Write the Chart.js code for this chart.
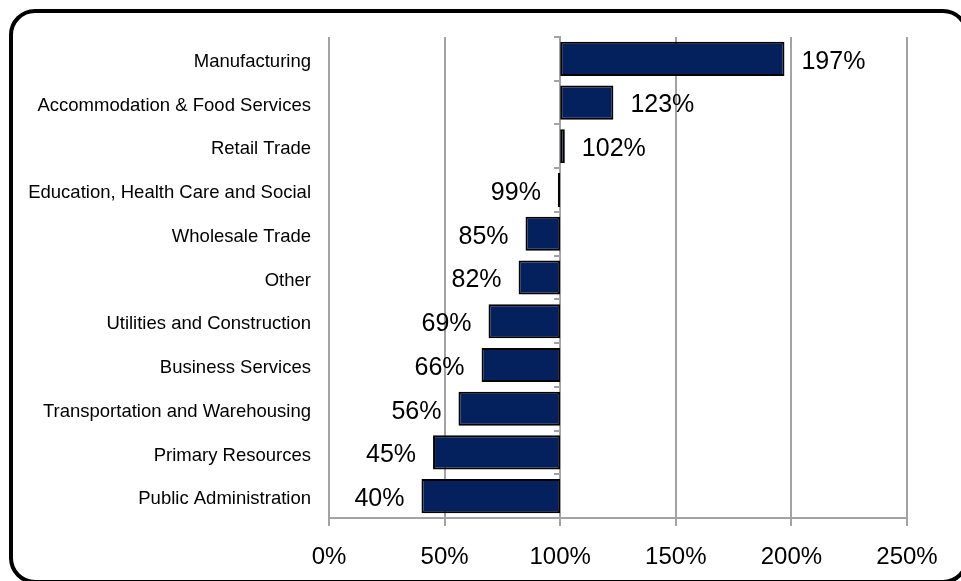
<!DOCTYPE html>
<html>
<head>
<meta charset="utf-8">
<script src="https://cdn.jsdelivr.net/npm/chart.js@4.4.1/dist/chart.umd.min.js"></script>
<style>
  html, body { margin: 0; padding: 0; background: #fff; overflow: hidden; }
  #wrap { position: relative; width: 961px; height: 581px; overflow: hidden; }
  #frame {
    position: absolute; left: 9px; top: 9px; width: 960px; height: 575px;
    box-sizing: border-box; border: 4px solid #000; border-radius: 26px;
    pointer-events: none;
  }
  canvas { position: absolute; left: 0; top: 0; }
</style>
</head>
<body>
<div id="wrap">
  <canvas id="myChart" width="961" height="581"></canvas>
  <div id="frame"></div>
</div>
<script>
// sectors, top to bottom
const sectors = [
  "Manufacturing",
  "Accommodation & Food Services",
  "Retail Trade",
  "Education, Health Care and Social",
  "Wholesale Trade",
  "Other",
  "Utilities and Construction",
  "Business Services",
  "Transportation and Warehousing",
  "Primary Resources",
  "Public Administration"
];

// index values in percent (100 = parity)
const indexValues = [197, 123, 102, 99, 85, 82, 69, 66, 56, 45, 40];
const baseline = 100;

const xTicks = [0, 50, 100, 150, 200, 250];

const gridColor = "#a3a3a3";
const barColor = "#04215e";

// value labels drawn next to the free end of each bar
const valueLabels = {
  id: "valueLabels",
  afterDatasetsDraw(chart) {
    const ctx = chart.ctx;
    const meta = chart.getDatasetMeta(0);
    const xScale = chart.scales.x;
    ctx.save();
    ctx.font = "25px 'Liberation Sans', Arial, sans-serif";
    ctx.fillStyle = "#000";
    ctx.textBaseline = "middle";
    meta.data.forEach((bar, i) => {
      const v = indexValues[i];
      const end = xScale.getPixelForValue(v);
      const right = v >= baseline;
      ctx.textAlign = right ? "left" : "right";
      ctx.fillText(v + "%", end + (right ? 17 : -17), bar.y + 3);
    });
    ctx.restore();
  }
};

const ctx = document.getElementById("myChart").getContext("2d");
new Chart(ctx, {
  type: "bar",
  data: {
    labels: sectors,
    datasets: [{
      data: indexValues.map(v => [baseline, v]),
      backgroundColor: barColor,
      borderColor: "#000",
      borderWidth: 2,
      borderSkipped: false,
      barPercentage: 0.78,
      categoryPercentage: 1
    }]
  },
  options: {
    indexAxis: "y",
    responsive: false,
    animation: false,
    layout: { padding: { left: 0, right: 54, top: 37, bottom: 0 } },
    plugins: {
      legend: { display: false },
      tooltip: { enabled: false }
    },
    scales: {
      x: {
        min: 0,
        max: 250,
        afterBuildTicks(scale) {
          scale.ticks = xTicks.map(v => ({ value: v }));
        },
        afterFit(scale) { scale.height = 63; },
        grid: { color: gridColor, lineWidth: 2, tickLength: 8 },
        border: { color: gridColor, width: 2 },
        ticks: {
          padding: 17,
          color: "#000",
          font: { family: "'Liberation Sans', Arial, sans-serif", size: 24 },
          callback: v => v + "%"
        }
      },
      y: {
        afterFit(scale) { scale.width = 329; },
        grid: { display: false, drawTicks: false },
        border: { display: false },
        ticks: {
          padding: 18,
          labelOffset: 3,
          color: "#000",
          font: { family: "'Liberation Sans', Arial, sans-serif", size: 18.5 }
        }
      },
      // axis line through the 100% baseline with its category tick marks
      yBase: {
        type: "category",
        axis: "y",
        position: { x: baseline },
        grid: { drawOnChartArea: false, color: gridColor, lineWidth: 2, tickLength: 5, offset: true },
        border: { color: gridColor, width: 2 },
        ticks: { display: false }
      }
    }
  },
  plugins: [valueLabels]
});
</script>
</body>
</html>
